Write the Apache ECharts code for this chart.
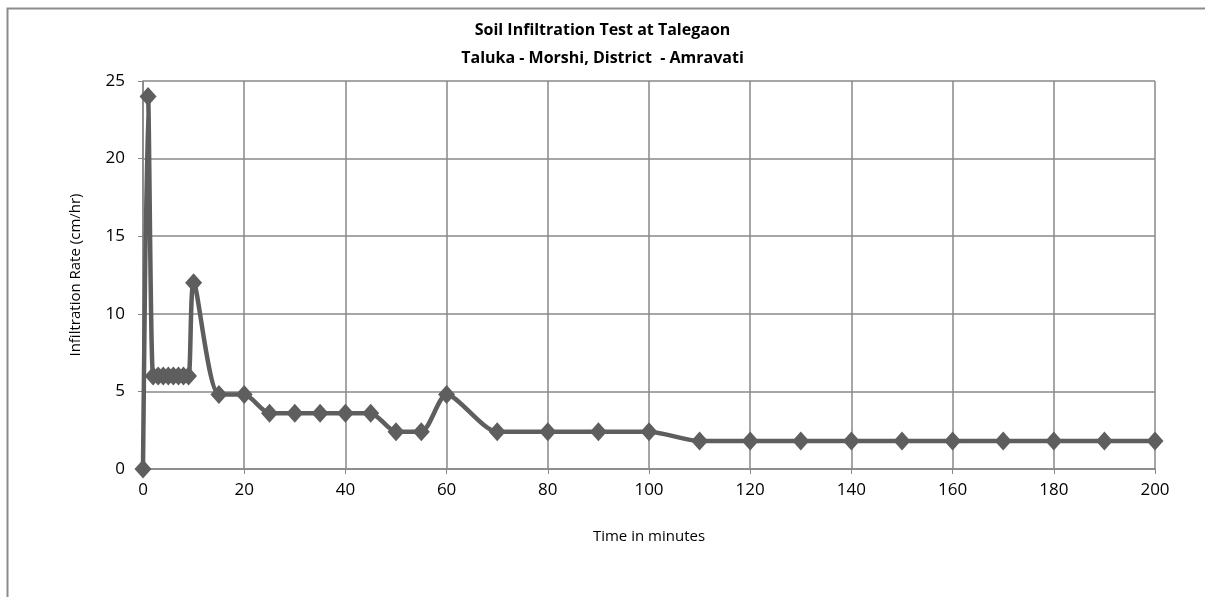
<!DOCTYPE html>
<html lang="en">
<head>
    <meta charset="utf-8">
    <title>Soil Infiltration Test</title>
    <script type="text/javascript" src="https://cdn.jsdelivr.net/npm/echarts@6/dist/echarts.min.js"></script>
</head>
<body style="margin:0">
    <div id="chart" style="width: 1205px; height: 597px;"></div>
<script type="text/javascript">
    // time (min) and infiltration rate (cm/hr)
    const times = [0, 1, 2, 3, 4, 5, 6, 7, 8, 9, 10, 15, 20, 25, 30, 35, 40, 45, 50, 55, 60,
        70, 80, 90, 100, 110, 120, 130, 140, 150, 160, 170, 180, 190, 200];
    const rates = [0, 24, 6, 6, 6, 6, 6, 6, 6, 6, 12, 4.8, 4.8, 3.6, 3.6, 3.6, 3.6, 3.6, 2.4, 2.4, 4.8,
        2.4, 2.4, 2.4, 2.4, 1.8, 1.8, 1.8, 1.8, 1.8, 1.8, 1.8, 1.8, 1.8, 1.8];
    const titleLines = ['Soil Infiltration Test at Talegaon', 'Taluka - Morshi, District  - Amravati'];

    const font = "'Open Sans', sans-serif";
    let myChart = echarts.init(document.getElementById('chart'));
    let option = {
        animation: false,
        backgroundColor: '#fff',
        graphic: [{
            type: 'rect',
            shape: { x: 7.5, y: 8.5, width: 1210, height: 600 },
            style: { fill: 'none', stroke: '#8c8c8c', lineWidth: 2 }
        }],
        title: {
            text: titleLines.join('\n'),
            left: 'center',
            top: 11,
            textStyle: { fontFamily: font, fontSize: 16, fontWeight: 'bold', color: '#000', lineHeight: 28 }
        },
        grid: { left: 143, right: 50, top: 81, bottom: 128, containLabel: false },
        xAxis: {
            type: 'value', min: 0, max: 200, interval: 20,
            name: 'Time in minutes', nameLocation: 'middle', nameGap: 60,
            nameTextStyle: { fontFamily: font, fontSize: 15, color: '#000' },
            axisLine: { lineStyle: { color: '#868686', width: 1.5 } },
            axisTick: { show: true, length: 5, lineStyle: { color: '#868686' } },
            axisLabel: { fontFamily: font, fontSize: 17, color: '#000', margin: 13 },
            splitLine: { show: true, lineStyle: { color: '#888', width: 1.5 } }
        },
        yAxis: {
            type: 'value', min: 0, max: 25, interval: 5,
            name: 'Infiltration Rate (cm/hr)', nameLocation: 'middle', nameGap: 60, nameRotate: 90,
            nameTextStyle: { fontFamily: font, fontSize: 15, color: '#000' },
            axisLine: { show: true, lineStyle: { color: '#868686', width: 1.5 } },
            axisTick: { show: true, length: 5, lineStyle: { color: '#868686' } },
            axisLabel: { fontFamily: font, fontSize: 17, color: '#000', margin: 18 },
            splitLine: { show: true, lineStyle: { color: '#888', width: 1.5 } }
        },
        series: [{
            type: 'line',
            data: times.map((t, i) => [t, rates[i]]),
            smooth: 0.25,
            symbol: 'diamond',
            symbolSize: [17, 19],
            itemStyle: { color: '#5e5e5e' },
            lineStyle: { color: '#5e5e5e', width: 4.5 }
        }]
    };
    myChart.setOption(option);
</script>
</body>
</html>
